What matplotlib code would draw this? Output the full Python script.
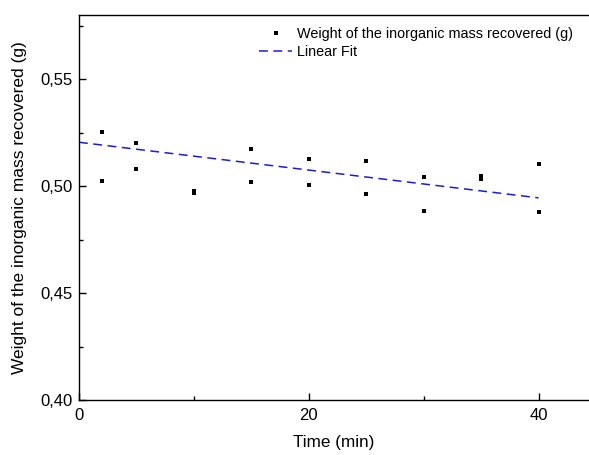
import matplotlib
matplotlib.use("Agg")
import matplotlib.pyplot as plt
from matplotlib.ticker import MultipleLocator, FuncFormatter

plt.rcParams['font.family'] = ['Liberation Sans', 'DejaVu Sans']

# Data
time_min = [2, 2, 5, 5, 10, 10, 15, 15, 20, 20, 25, 25, 30, 30, 35, 35, 40, 40]
mass_g = [0.5252, 0.5023, 0.5200, 0.5080, 0.4969, 0.4975, 0.5172, 0.5019,
          0.5125, 0.5006, 0.5119, 0.4961, 0.5044, 0.4882, 0.5048, 0.5031,
          0.5103, 0.4877]
fit_time = [0, 40]
fit_mass = [0.5205, 0.4945]

x_ticks = [0, 20, 40]
y_ticks = [0.40, 0.45, 0.50, 0.55]

W, H = 589, 455
fig = plt.figure(figsize=(W / 100, H / 100), dpi=100)
ax = fig.add_axes([79 / W, 1 - 400 / H, (W - 79) / W, (400 - 15) / H])

ax.plot(time_min, mass_g, linestyle='none', marker='s', markersize=2.4,
        markeredgewidth=0, color='black',
        label='Weight of the inorganic mass recovered (g)')
ax.plot(fit_time, fit_mass, linestyle=(0, (5.8, 3.6)), linewidth=1.1,
        color='#1c1cd8', label='Linear Fit')

ax.set_xlim(0, (W - 79) / 11.49)
ax.set_ylim(0.40, 0.58)
ax.set_xticks(x_ticks)
ax.set_yticks(y_ticks)
ax.xaxis.set_minor_locator(MultipleLocator(10))
ax.yaxis.set_minor_locator(MultipleLocator(0.025))
ax.yaxis.set_major_formatter(FuncFormatter(lambda v, p: f"{v:.2f}".replace('.', ',')))

ax.tick_params(which='both', direction='in', top=False, right=False, width=1)
ax.tick_params(which='major', length=5, labelsize=12)
ax.tick_params(axis='x', which='major', pad=6)
ax.tick_params(axis='y', which='major', pad=4.5)
ax.tick_params(which='minor', length=3)

ax.spines['right'].set_visible(False)
for s in ['left', 'bottom', 'top']:
    ax.spines[s].set_linewidth(1.0)

ax.set_xlabel('Time (min)', fontsize=12.3)
ax.set_ylabel('Weight of the inorganic mass recovered (g)', fontsize=12.5)
ax.xaxis.set_label_coords(0.5, -(435.5 - 400) / 385)
ax.yaxis.set_label_coords(-(79 - 27) / (W - 79), 0.5)

fig.legend(loc='upper left', bbox_to_anchor=(259 / W, 1 - 27 / H),
           bbox_transform=fig.transFigure, frameon=False, fontsize=10.4,
           borderpad=0, borderaxespad=0, handlelength=2.3, handletextpad=0.3,
           labelspacing=0.25, numpoints=1, markerscale=1.0)

fig.savefig('out.png', dpi=100)
